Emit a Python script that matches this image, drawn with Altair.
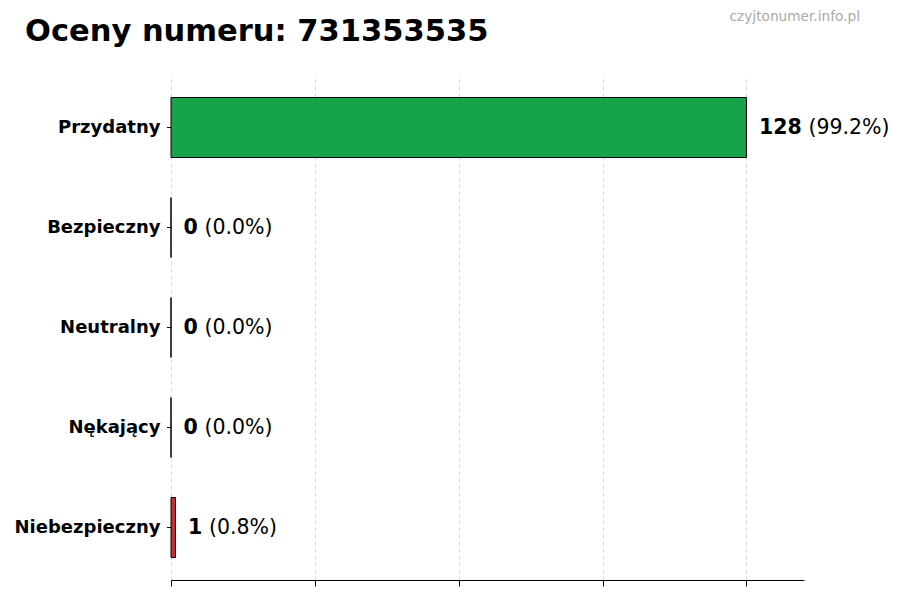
"""Altair chart of phone number ratings."""

import pandas as pd
import altair as alt

categories = ['Przydatny', 'Bezpieczny', 'Neutralny', 'Nękający', 'Niebezpieczny']
counts = [128, 0, 0, 0, 1]
percents = [99.2, 0.0, 0.0, 0.0, 0.8]
colors = ['#16a34a', '#2563eb', '#6b7280', '#f97316', '#c53030']
grid_ticks = [0, 32, 64, 96, 128]
title_text = 'Oceny numeru: 731353535'
watermark_text = 'czyjtonumer.info.pl'

data = pd.DataFrame({
    'category': categories,
    'count': counts,
    'percent': percents,
    'color': colors,
})
data['count_label'] = data['count'].astype(str)
data['digits'] = data['count_label'].str.len()
data['pct_label'] = data['percent'].map(lambda p: f'({p:.1f}%)')

FONT = 'DejaVu Sans'
LABEL_SIZE = 20.5
DIGIT_W = 14.3   # width of one bold digit at LABEL_SIZE
GAP = 12.5       # gap between bar end and the count label

base = alt.Chart(data).encode(
    y=alt.Y('category:N', sort=categories, title=None,
            scale=alt.Scale(paddingInner=0.4, paddingOuter=0.225),
            axis=alt.Axis(labelFont=FONT, labelFontSize=18, labelFontWeight='bold',
                          labelColor='black', domain=False, tickColor='black',
                          tickSize=4.5, labelPadding=6.5, grid=False)),
)

bars = base.mark_bar(stroke='black', strokeWidth=1, cornerRadius=0).encode(
    x=alt.X('count:Q', title=None,
            scale=alt.Scale(domain=[0, 140.8], nice=False, zero=True),
            axis=alt.Axis(values=grid_ticks, labels=False, domainColor='black',
                          tickColor='black', tickSize=6, grid=True,
                          gridColor='#d0d0d0', gridDash=[4, 3], gridWidth=0.8)),
    color=alt.Color('color:N', scale=None),
)

count_text = base.mark_text(align='left', baseline='middle', dx=GAP, font=FONT,
                            fontSize=LABEL_SIZE, fontWeight='bold', color='black').encode(
    x='count:Q',
    text='count_label:N',
)

# percentage in regular weight, shifted past the bold count
pct_layers = [
    base.transform_filter(alt.datum.digits == n).mark_text(
        align='left', baseline='middle', dx=GAP + n * DIGIT_W + 6.6, font=FONT,
        fontSize=LABEL_SIZE, color='black'
    ).encode(x='count:Q', text='pct_label:N')
    for n in sorted(data['digits'].unique())
]

annotations = pd.DataFrame({'t': [title_text, watermark_text]})

title = alt.Chart(annotations).transform_filter(
    alt.datum.t == title_text
).mark_text(align='left', baseline='alphabetic', font=FONT, fontSize=30.5,
            fontWeight='bold', color='black').encode(
    x=alt.value(-146),
    y=alt.value(-34),
    text='t:N',
)

watermark = alt.Chart(annotations).transform_filter(
    alt.datum.t == watermark_text
).mark_text(align='right', baseline='middle', font=FONT, fontSize=13.7,
            color='#aaaaaa').encode(
    x=alt.value(689),
    y=alt.value(-58),
    text='t:N',
)

chart = alt.layer(bars, count_text, *pct_layers, title, watermark).properties(
    width=633,
    height=505,
    padding={'left': 163, 'top': 67, 'right': 85, 'bottom': 10},
    autosize=alt.AutoSizeParams(type='none'),
).configure_view(stroke=None)

chart.save("out.html", embed_options={"renderer": "svg", "actions": False})
